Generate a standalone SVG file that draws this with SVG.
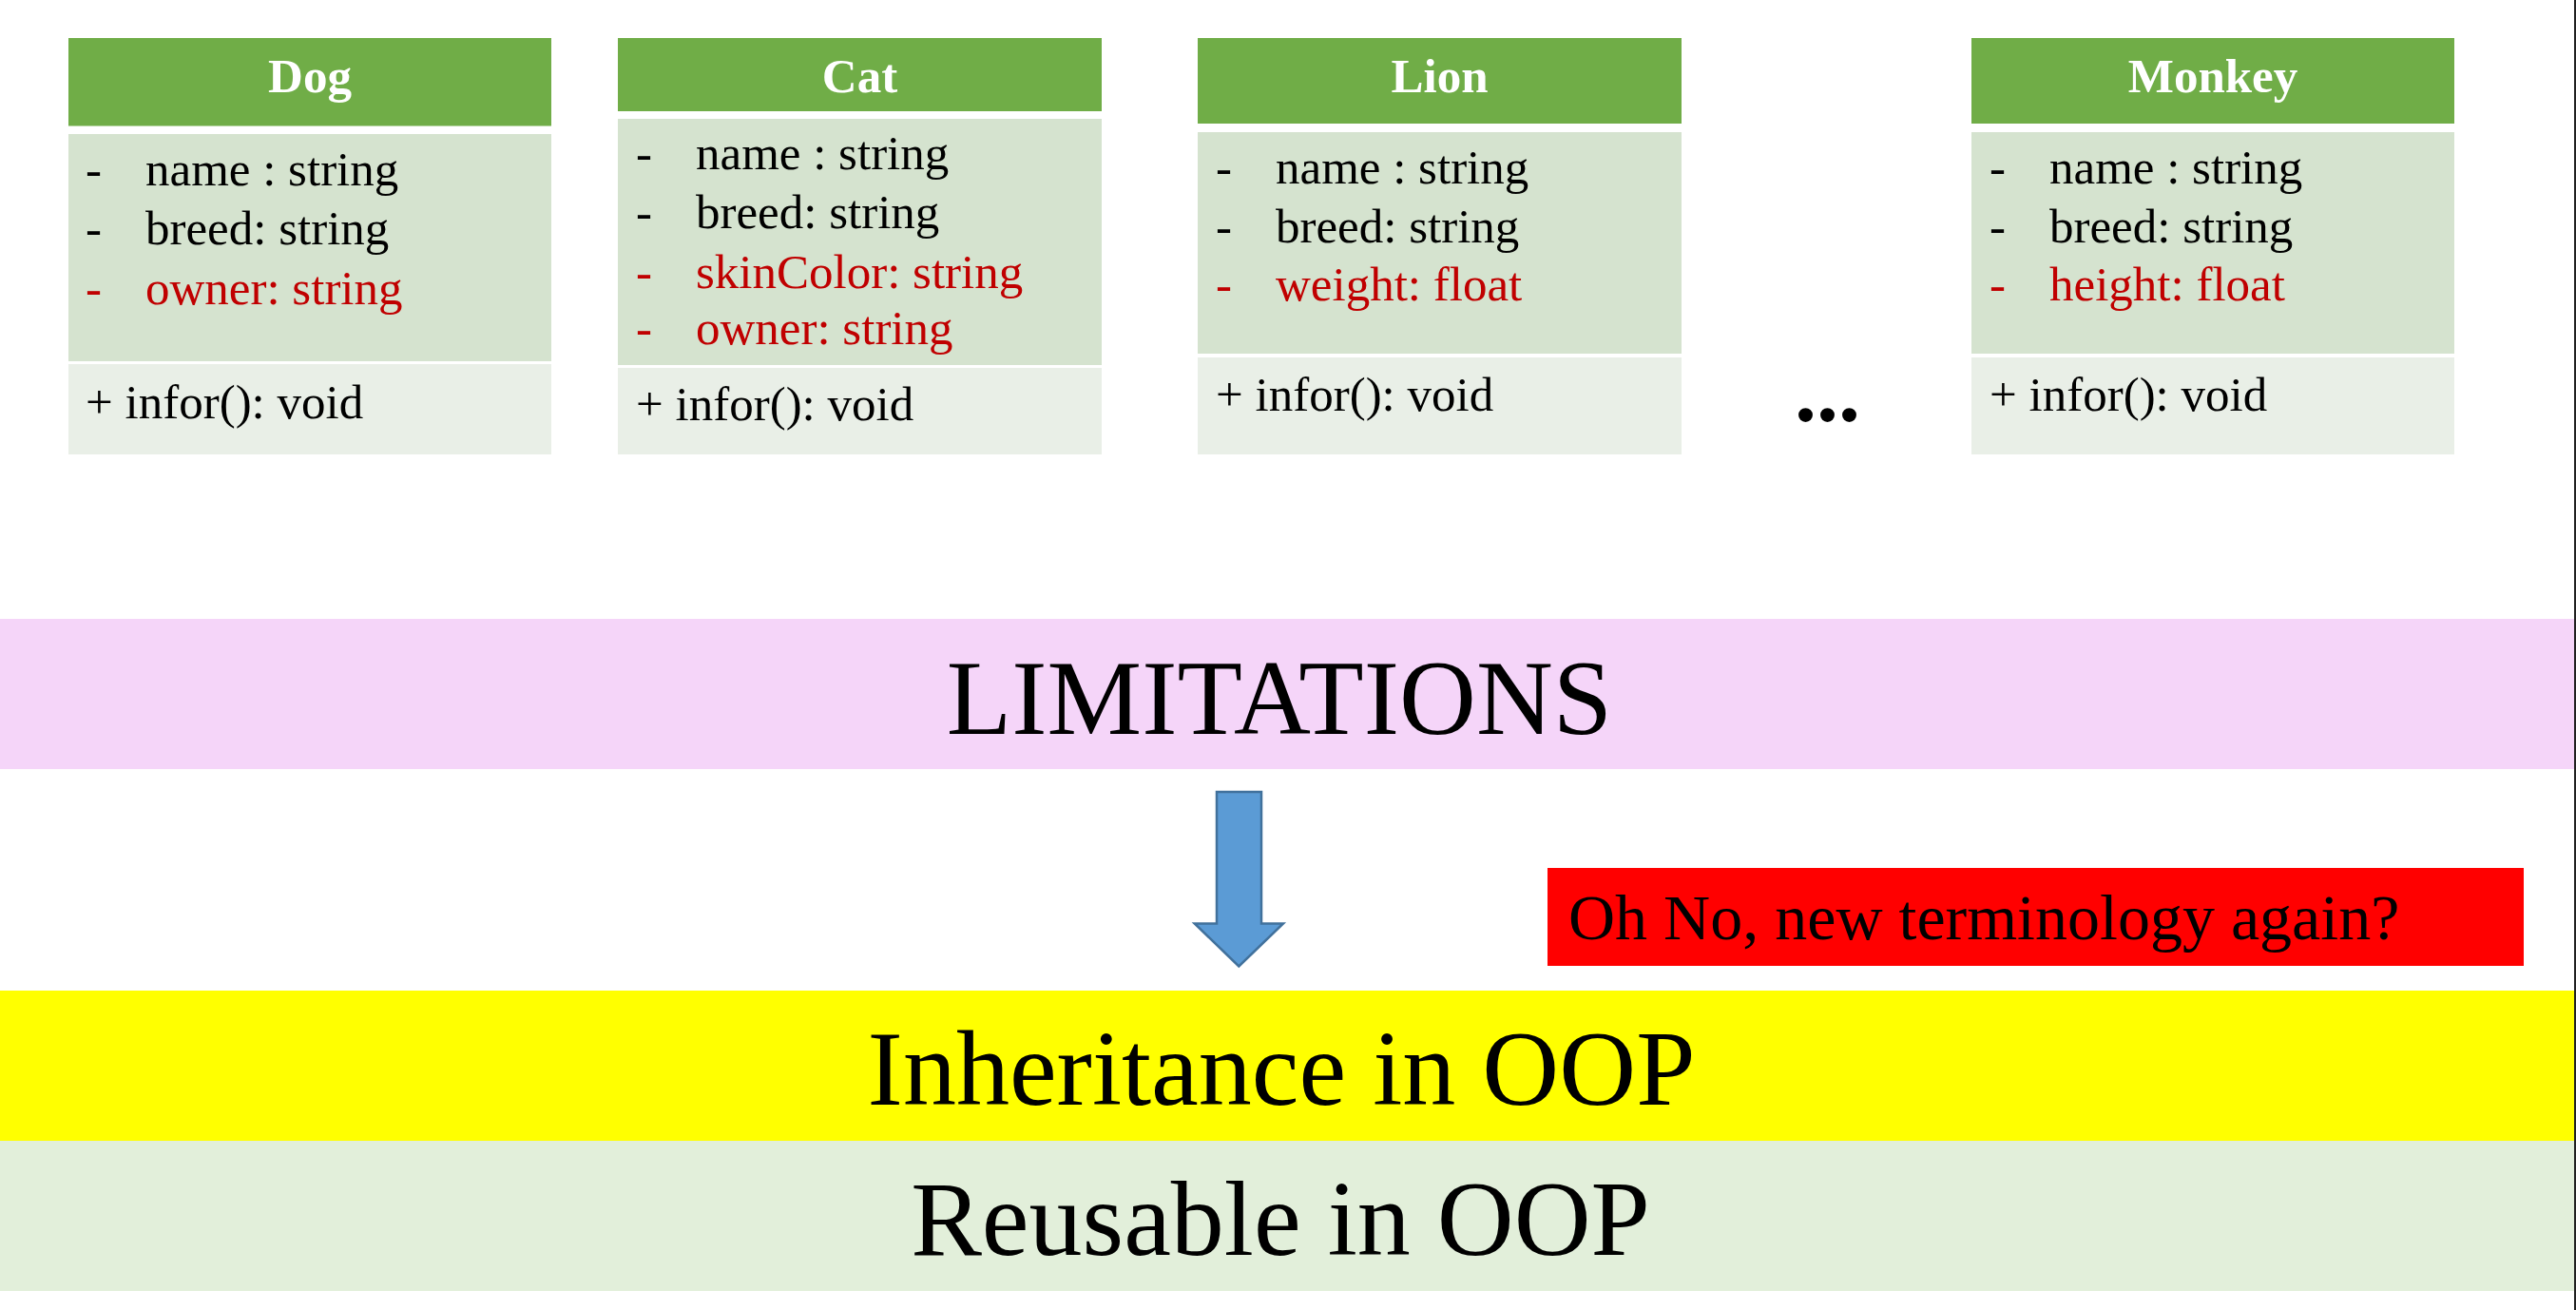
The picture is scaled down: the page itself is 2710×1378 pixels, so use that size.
<svg xmlns="http://www.w3.org/2000/svg" width="2710" height="1378" viewBox="0 0 2710 1378">
<style>
text{font-family:"Liberation Serif","Times New Roman",serif}
.hd{fill:#70AD47}
.at{fill:#D5E3CF}
.mt{fill:#E9EFE7}
.ttl{font-size:51px;font-weight:bold;fill:#FFFFFF;text-anchor:middle}
.tx{font-size:51px;fill:#000000}
.rd{fill:#C00000}
.big{font-size:112px;fill:#000000;text-anchor:middle}
</style>
<rect x="0" y="0" width="2710" height="1378" fill="#FFFFFF"/>

<g id="dog">
<rect class="hd" x="72" y="40" width="508" height="92.5"/>
<rect class="at" x="72" y="141" width="508" height="239"/>
<rect class="mt" x="72" y="383" width="508" height="95"/>
<text class="ttl" x="326" y="97">Dog</text>
<text class="tx" x="90" y="195">-</text><text class="tx" x="153" y="195">name : string</text>
<text class="tx" x="90" y="257">-</text><text class="tx" x="153" y="257">breed: string</text>
<text class="tx rd" x="90" y="320">-</text><text class="tx rd" x="153" y="320">owner: string</text>
<text class="tx" x="90" y="440">+ infor(): void</text>
</g>

<g id="cat">
<rect class="hd" x="650" y="40" width="509" height="77"/>
<rect class="at" x="650" y="125" width="509" height="259"/>
<rect class="mt" x="650" y="387" width="509" height="91"/>
<text class="ttl" x="904.5" y="97">Cat</text>
<text class="tx" x="669" y="178">-</text><text class="tx" x="732" y="178">name : string</text>
<text class="tx" x="669" y="240">-</text><text class="tx" x="732" y="240">breed: string</text>
<text class="tx rd" x="669" y="303">-</text><text class="tx rd" x="732" y="303">skinColor: string</text>
<text class="tx rd" x="669" y="362">-</text><text class="tx rd" x="732" y="362">owner: string</text>
<text class="tx" x="669" y="442">+ infor(): void</text>
</g>

<g id="lion">
<rect class="hd" x="1260" y="40" width="509" height="90"/>
<rect class="at" x="1260" y="139" width="509" height="233"/>
<rect class="mt" x="1260" y="376" width="509" height="102"/>
<text class="ttl" x="1514.5" y="97">Lion</text>
<text class="tx" x="1279" y="193">-</text><text class="tx" x="1342" y="193">name : string</text>
<text class="tx" x="1279" y="255">-</text><text class="tx" x="1342" y="255">breed: string</text>
<text class="tx rd" x="1279" y="316">-</text><text class="tx rd" x="1342" y="316">weight: float</text>
<text class="tx" x="1279" y="432">+ infor(): void</text>
</g>

<g id="ellipsis">
<text x="1888" y="443" style="font-size:92px;font-weight:bold;fill:#000000">...</text>
</g>

<g id="monkey">
<rect class="hd" x="2074" y="40" width="508" height="90"/>
<rect class="at" x="2074" y="139" width="508" height="233"/>
<rect class="mt" x="2074" y="376" width="508" height="102"/>
<text class="ttl" x="2328" y="97">Monkey</text>
<text class="tx" x="2093" y="193">-</text><text class="tx" x="2156" y="193">name : string</text>
<text class="tx" x="2093" y="255">-</text><text class="tx" x="2156" y="255">breed: string</text>
<text class="tx rd" x="2093" y="316">-</text><text class="tx rd" x="2156" y="316">height: float</text>
<text class="tx" x="2093" y="432">+ infor(): void</text>
</g>

<g id="limitations">
<rect x="0" y="651" width="2708" height="158" fill="#F5D5F9"/>
<text class="big" x="1346" y="772">LIMITATIONS</text>
</g>

<g id="connectors">
<path d="M1280,833 L1327,833 L1327,971.5 L1350,971.5 L1303.3,1016.5 L1256.7,971.5 L1280,971.5 Z" fill="#5B9BD5" stroke="#41719C" stroke-width="2.5" stroke-linejoin="miter"/>
</g>

<g id="note">
<rect x="1628" y="913" width="1027" height="103" fill="#FF0000"/>
<text x="1650" y="988" style="font-size:68px;fill:#000000">Oh No, new terminology again?</text>
</g>

<g id="inheritance">
<rect x="0" y="1042" width="2708" height="158" fill="#FFFF00"/>
<text class="big" x="1348" y="1162">Inheritance in OOP</text>
</g>

<g id="reusable">
<rect x="0" y="1200" width="2708" height="158" fill="#E2EFDA"/>
<text class="big" x="1347" y="1320">Reusable in OOP</text>
</g>

<rect x="2708" y="0" width="2" height="1378" fill="#222222"/>
</svg>
